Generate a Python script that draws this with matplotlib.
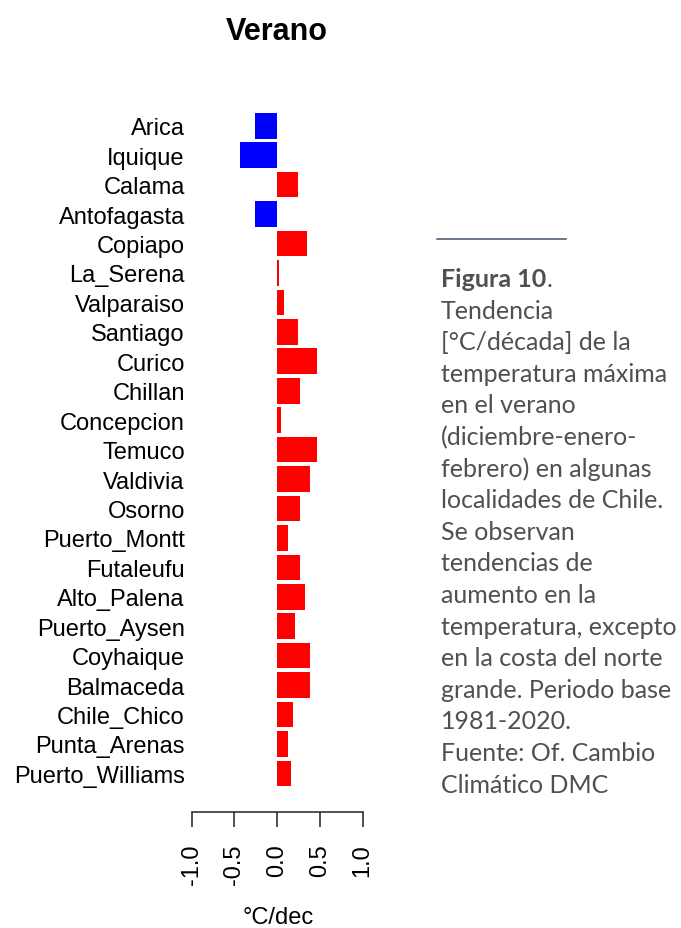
import numpy as np
import matplotlib
matplotlib.use("Agg")
import matplotlib.pyplot as plt
from matplotlib.lines import Line2D

# summer trend of max temperature per station [°C/decade]
stations = ["Arica", "Iquique", "Calama", "Antofagasta", "Copiapo", "La_Serena",
            "Valparaiso", "Santiago", "Curico", "Chillan", "Concepcion", "Temuco",
            "Valdivia", "Osorno", "Puerto_Montt", "Futaleufu", "Alto_Palena",
            "Puerto_Aysen", "Coyhaique", "Balmaceda", "Chile_Chico", "Punta_Arenas",
            "Puerto_Williams"]
trend = [-0.26, -0.43, 0.24, -0.26, 0.35, 0.02,
         0.08, 0.24, 0.46, 0.27, 0.05, 0.46,
         0.38, 0.27, 0.13, 0.27, 0.32,
         0.21, 0.38, 0.38, 0.19, 0.13,
         0.16]
xticks = [-1.0, -0.5, 0.0, 0.5, 1.0]
xtick_labels = ["-1.0", "-0.5", "0.0", "0.5", "1.0"]

caption = ["Tendencia", "[°C/década] de la", "temperatura máxima",
           "en el verano", "(diciembre-enero-", "febrero) en algunas",
           "localidades de Chile.", "Se observan", "tendencias de",
           "aumento en la", "temperatura, excepto", "en la costa del norte",
           "grande. Periodo base", "1981-2020.", "Fuente: Of. Cambio",
           "Climático DMC"]

W, H = 681, 929
plt.rcParams['font.family'] = ['Liberation Sans', 'DejaVu Sans']
fig = plt.figure(figsize=(W / 100, H / 100), dpi=100)

# axes placed in pixel units
x0, x1 = 191.7, 362.7
top, bot = 109.1, 813.0
ax = fig.add_axes([x0 / W, (H - bot) / H, (x1 - x0) / W, (bot - top) / H])

ypos = np.arange(len(stations))
colors = ["#0000ff" if v < 0 else "#ff0000" for v in trend]
ax.barh(ypos, trend, height=0.87, color=colors, edgecolor="none")

ax.set_xlim(-1, 1)
ax.set_ylim(23.31, -0.6)
ax.set_yticks(ypos)
ax.set_yticklabels(stations, fontsize=17)
ax.tick_params(axis="y", length=0, pad=5)
ax.set_xticks(xticks)
ax.set_xticklabels(xtick_labels, rotation=90, fontsize=17)
ax.tick_params(axis="x", direction="out", length=10.8, width=1.1, pad=12,
               color="#222222")
for s in ["top", "right", "left"]:
    ax.spines[s].set_visible(False)
ax.spines["bottom"].set_linewidth(1.1)
ax.spines["bottom"].set_color("#222222")

fig.text(276.5 / W, 1 - 40 / H, "Verano", fontsize=22, fontweight="bold",
         ha="center", va="baseline")
fig.text(278 / W, 1 - 918 / H, "°C/dec", fontsize=17, ha="center", va="center")

# caption on the right
fig.add_artist(Line2D([437 / W, 566 / W], [1 - 240 / H, 1 - 240 / H],
                      color="#44546a", lw=1.1, transform=fig.transFigure))
cap_font = ["Lato", "DejaVu Sans"]
cap_col = "#505050"
cap_size = 18
base0, step = 287.0, 31.6
t = fig.text(441 / W, 1 - base0 / H, "Figura 10", fontsize=cap_size,
             fontweight="bold", family=cap_font, color=cap_col,
             ha="left", va="baseline")
fig.canvas.draw()
bb = t.get_window_extent()
fig.text(bb.x1 / W, 1 - base0 / H, ".", fontsize=cap_size, family=cap_font,
         color=cap_col, ha="left", va="baseline")
for i, line in enumerate(caption):
    fig.text(441 / W, 1 - (base0 + step * (i + 1)) / H, line, fontsize=cap_size,
             family=cap_font, color=cap_col, ha="left", va="baseline")

fig.savefig("out.png", dpi=100)
